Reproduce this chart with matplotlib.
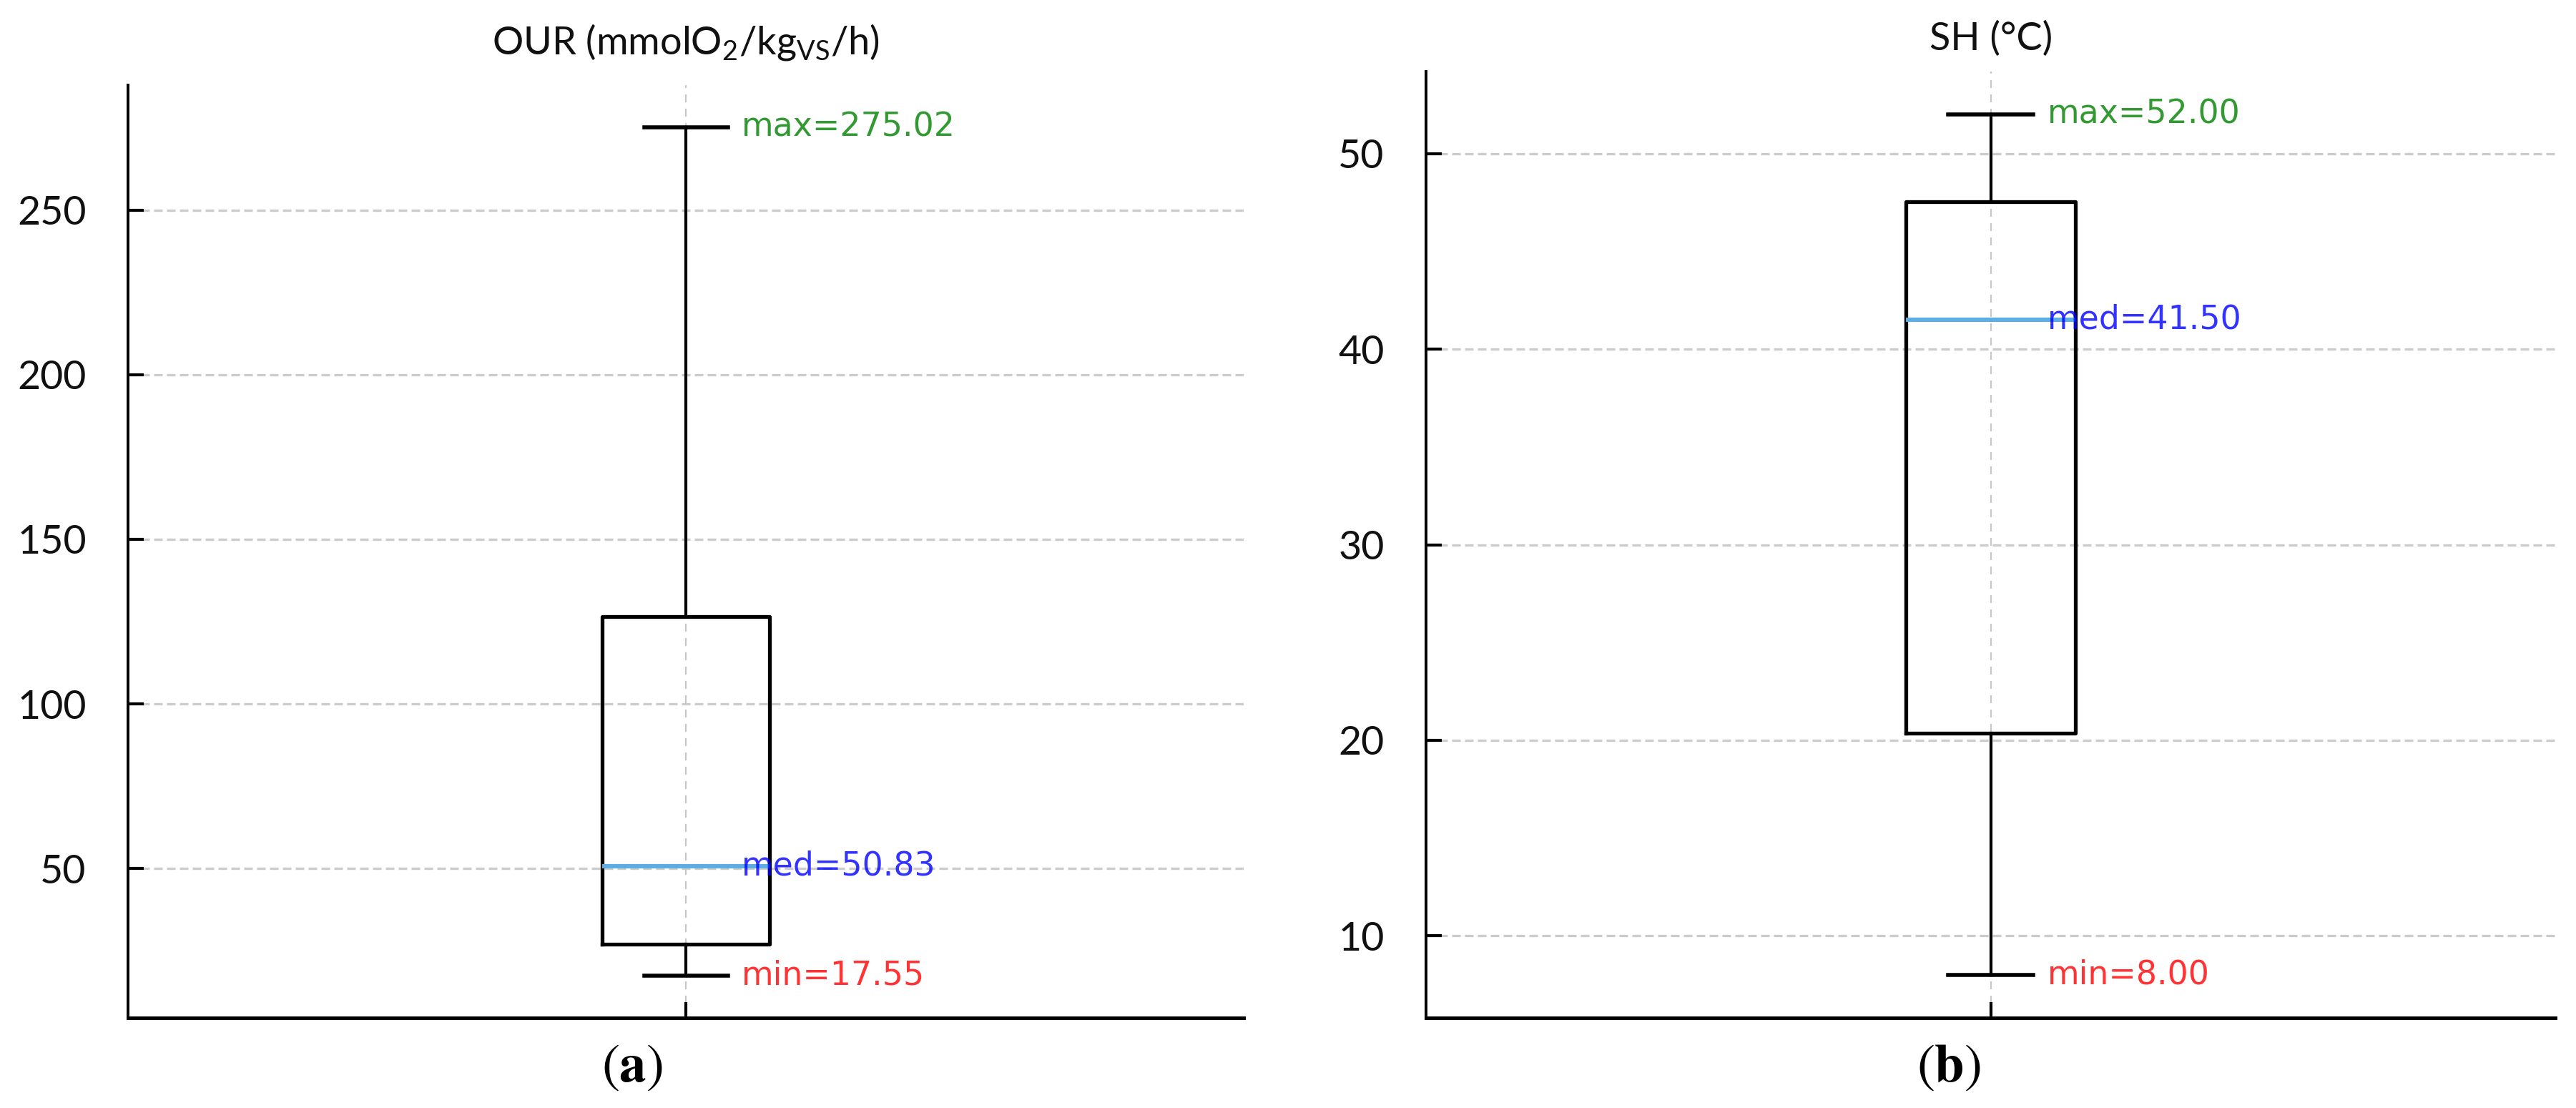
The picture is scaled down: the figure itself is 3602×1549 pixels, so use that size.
import matplotlib
matplotlib.use("Agg")
import matplotlib.pyplot as plt

# five-number summaries
titles = [r"OUR (mmolO$_2$/kg$_{\mathrm{VS}}$/h)", "SH (°C)"]
panel_tags = [r"$(\mathbf{a})$", r"$(\mathbf{b})$"]
mins = [17.55, 8.00]
q1s = [27.1, 20.35]
meds = [50.83, 41.50]
q3s = [126.6, 47.54]
maxs = [275.02, 52.00]
yticks = [[50, 100, 150, 200, 250], [10, 20, 30, 40, 50]]

plt.rcParams['font.family'] = ['DejaVu Sans']
plt.rcParams['mathtext.fontset'] = 'custom'
plt.rcParams['mathtext.rm'] = 'Lato'
plt.rcParams['mathtext.it'] = 'Lato:italic'
plt.rcParams['mathtext.bf'] = 'Lato:bold'

fig = plt.figure(figsize=(18.01, 7.745), dpi=200)
axes = [fig.add_axes([0.0497, 0.0813, 0.4331, 0.8418]),
        fig.add_axes([0.5536, 0.0813, 0.4384, 0.8541])]
title_gap = [15.8, 10.8]
tag_x = [884 / 3602, 2725 / 3602]

for i, ax in enumerate(axes):
    stats = [dict(whislo=mins[i], q1=q1s[i], med=meds[i], q3=q3s[i],
                  whishi=maxs[i], fliers=[])]
    ax.bxp(stats, positions=[1], widths=0.15, showfliers=False,
           boxprops=dict(color='black', linewidth=1.9),
           whiskerprops=dict(color='black', linewidth=1.5),
           capprops=dict(color='black', linewidth=2.0),
           medianprops=dict(color='#5dade2', linewidth=2.2))
    ax.set_xlim(0.5, 1.5)
    ax.set_xticks([1])
    ax.set_xticklabels([''])
    ax.set_yticks(yticks[i])
    for lab in ax.get_yticklabels():
        lab.set_family('Lato')

    ax.yaxis.grid(True, color='#cccccc', linewidth=1.2, linestyle=(0, (3.6, 1.8)))
    ax.xaxis.grid(True, color='#c8c8c8', linewidth=0.8, linestyle=(0, (5, 4)))
    ax.set_axisbelow(True)

    for s in ['top', 'right']:
        ax.spines[s].set_visible(False)
    ax.spines['left'].set_linewidth(1.4)
    ax.spines['bottom'].set_linewidth(1.8)
    ax.tick_params(axis='both', direction='in', length=8, width=1.5,
                   labelsize=20, pad=21, labelcolor='#111111')

    ax.text(1.05, maxs[i], f"max={maxs[i]:.2f}", color='green', alpha=0.8,
            fontsize=16.5, va='center', ha='left')
    ax.text(1.05, meds[i], f"med={meds[i]:.2f}", color='blue', alpha=0.8,
            fontsize=16.5, va='center', ha='left')
    ax.text(1.05, mins[i], f"min={mins[i]:.2f}", color='red', alpha=0.8,
            fontsize=16.5, va='center', ha='left')

    ax.annotate(titles[i], xy=(0.5, 1), xycoords='axes fraction',
                xytext=(0, title_gap[i]), textcoords='offset points',
                ha='center', va='baseline', fontsize=19.5, family='Lato',
                color='#111111')

    fig.text(tag_x[i], 1 - 1491 / 1549, panel_tags[i], fontsize=27,
             ha='center', va='center', math_fontfamily='stix')

fig.savefig('out.png', dpi=200)
